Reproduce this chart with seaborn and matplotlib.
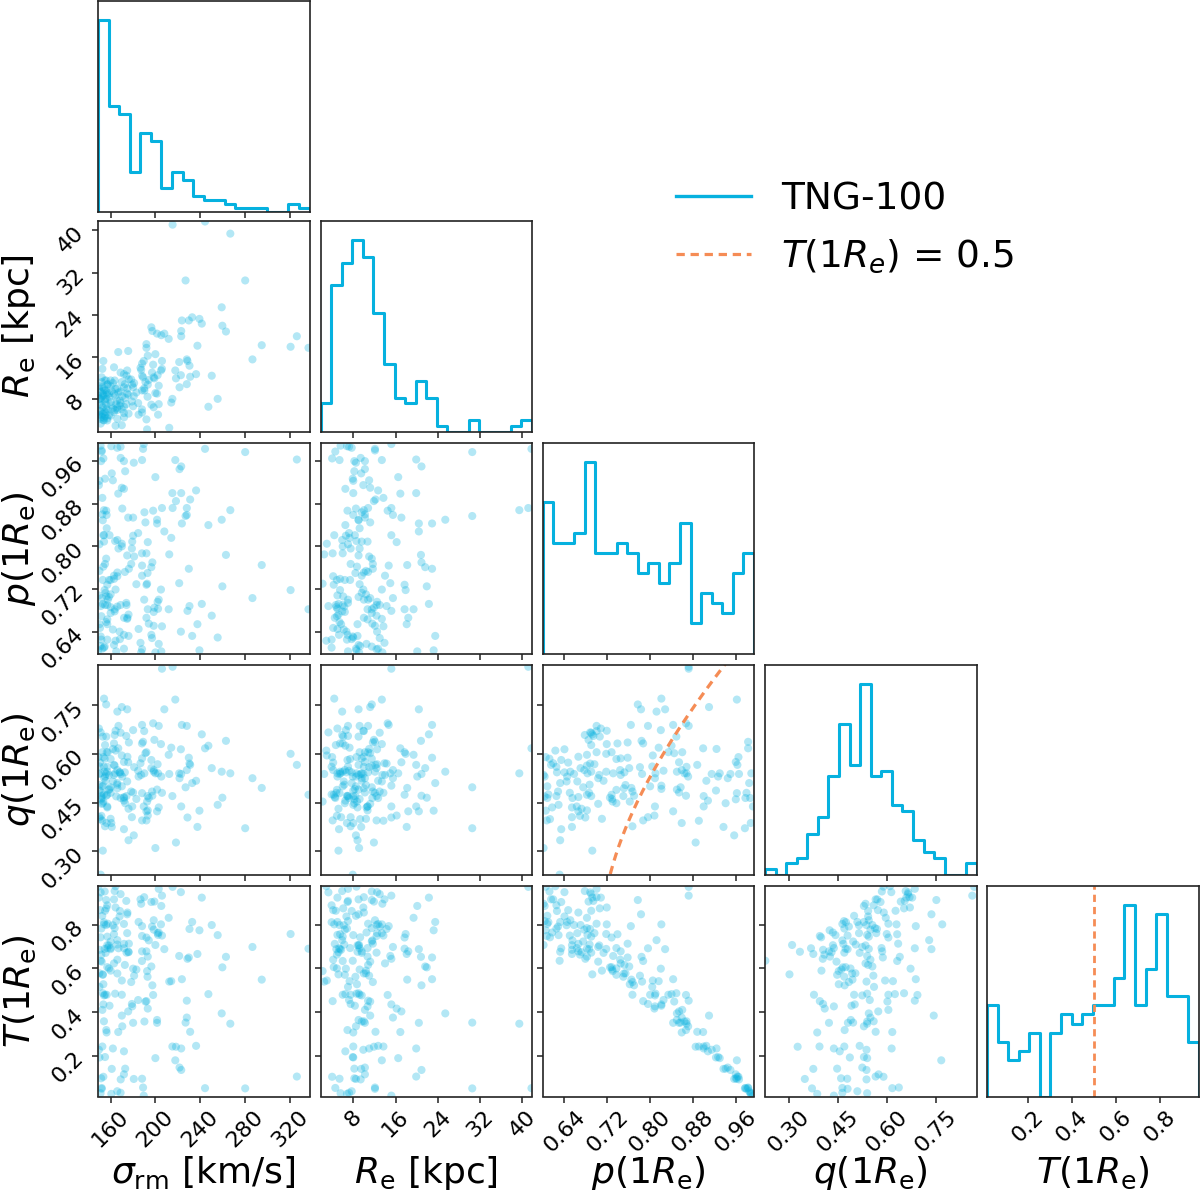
import numpy as np
import pandas as pd
import matplotlib
matplotlib.use("Agg")
import matplotlib.pyplot as plt
import seaborn as sns
from matplotlib.lines import Line2D

plt.rcParams["font.family"] = ["DejaVu Sans"]
plt.rcParams["mathtext.fontset"] = "dejavusans"

# ---------------- data (one entry per galaxy) ----------------
sigma = [215.4, 154.1, 217.8, 156.0, 174.8, 208.0, 170.0, 203.0, 149.5, 164.4,
         188.1, 167.0, 180.1, 223.7, 198.0, 228.1, 153.0, 163.6, 320.9, 174.0,
         199.1, 155.0, 156.1, 205.0, 163.0, 176.3, 263.1, 188.0, 214.2, 156.5,
         152.6, 166.8, 162.0, 189.0, 244.4, 164.4, 222.8, 157.5, 170.4, 211.9,
         175.0, 196.4, 150.5, 163.0, 186.7, 160.0, 188.1, 229.9, 202.0, 250.4,
         155.0, 163.6, 326.5, 168.0, 198.5, 156.0, 154.6, 221.3, 166.0, 172.7,
         196.4, 181.0, 212.4, 150.0, 154.1, 175.7, 166.0, 190.2, 267.0, 151.1,
         231.1, 149.5, 168.3, 223.1, 169.0, 198.5, 151.0, 165.9, 187.3, 162.0,
         174.8, 232.9, 197.0, 286.8, 155.5, 160.0, 336.9, 172.0, 194.1, 157.0,
         158.5, 228.1, 150.0, 178.4, 197.3, 183.0, 192.6, 153.0, 153.5, 153.5,
         159.0, 180.1, 227.0, 156.1, 236.4, 150.0, 171.9, 223.1, 173.0, 188.1,
         152.0, 168.9, 189.6, 165.0, 171.9, 239.4, 203.0, 255.7, 157.0, 157.0,
         192.0, 176.0, 193.2, 150.0, 151.7, 228.7, 152.0, 179.3, 201.5, 179.0,
         192.0, 155.0, 156.4, 152.6, 161.0, 180.7, 280.3, 160.6, 218.4, 151.0,
         171.9, 237.6, 176.0, 200.0, 153.0, 151.1, 205.9, 166.0, 168.9, 241.5,
         190.0, 247.4, 149.0, 154.7, 192.0, 170.0, 191.1, 153.5, 157.0, 230.5,
         154.0, 171.9, 205.3, 185.0, 202.4, 157.0, 158.5, 163.0, 164.0, 184.6,
         259.3, 200.0, 221.6, 152.5, 165.9, 295.1, 170.0, 201.5, 154.0, 151.7,
         205.9, 160.0, 174.2, 259.9, 193.0, 215.2, 151.5, 152.0, 193.2, 160.0,
         188.1]

Re = [41.1, 4.4, 13.4, 11.5, 9.0, 20.4, 11.2, 7.0, 5.0, 9.9,
      14.7, 9.2, 6.6, 22.9, 14.5, 10.8, 9.0, 5.9, 17.9, 7.0,
      11.9, 4.7, 6.1, 13.4, 5.5, 11.7, 20.8, 6.0, 7.3, 9.2,
      10.2, 16.9, 11.0, 12.1, 41.7, 2.9, 12.5, 10.8, 8.5, 19.4,
      10.0, 6.9, 4.2, 9.0, 13.9, 7.4, 9.6, 22.9, 12.5, 12.4,
      7.9, 11.5, 19.9, 6.7, 12.1, 5.4, 5.5, 15.0, 4.2, 10.8,
      21.6, 11.0, 2.5, 7.0, 9.6, 17.1, 10.0, 9.6, 39.4, 3.3,
      12.2, 9.9, 7.7, 20.9, 9.4, 6.4, 5.6, 7.7, 13.5, 6.2,
      13.4, 23.5, 13.0, 15.5, 9.6, 11.5, 17.7, 4.5, 11.6, 4.3,
      4.9, 15.5, 10.4, 11.7, 20.9, 9.2, 2.2, 6.4, 8.7, 15.2,
      8.3, 10.2, 30.5, 6.9, 12.7, 8.0, 6.5, 19.9, 8.2, 5.4,
      4.6, 7.2, 15.2, 7.0, 12.7, 23.2, 10.5, 8.0, 8.8, 10.7,
      18.4, 5.2, 10.7, 5.7, 4.9, 15.2, 11.2, 10.7, 20.4, 7.5,
      4.1, 7.5, 8.0, 13.7, 9.5, 8.5, 30.5, 6.8, 11.9, 9.3,
      5.3, 18.1, 8.8, 9.1, 5.2, 7.9, 15.2, 5.9, 13.0, 22.3,
      10.0, 6.5, 8.6, 11.5, 17.7, 3.0, 11.2, 4.0, 3.9, 14.3,
      10.0, 10.2, 20.1, 5.0, 5.0, 6.0, 9.0, 14.0, 8.6, 7.2,
      25.4, 16.5, 10.2, 8.5, 6.3, 18.2, 6.0, 9.0, 3.9, 6.8,
      13.7, 4.8, 12.4, 21.9, 8.4, 8.0, 8.2, 12.1, 16.2, 10.4,
      12.4]

p = [.872, .821, .962, .777, .783, .828, .910, .700, .708, .719,
     .764, .796, .820, .843, .867, .872, .849, .678, .718, .694,
     .685, .690, .706, .719, .739, .758, .784, .787, .816, .834,
     .860, .899, .924, .983, .983, .623, .640, .700, .871, .682,
     .666, .634, .647, .615, .619, .737, .745, .758, .696, .670,
     .927, .682, .963, .640, .651, .658, .718, .731, .744, .752,
     .761, .781, .785, .804, .809, .854, .751, .864, .868, .688,
     .888, .915, .626, .950, .966, .677, .989, .985, .601, .644,
     .664, .632, .628, .703, .713, .675, .682, .666, .655, .728,
     .737, .859, .754, .767, .770, .729, .730, .737, .762, .821,
     .821, .854, .857, .867, .905, .923, .908, .900, .941, .962,
     .978, .987, .992, .603, .608, .605, .617, .629, .654, .663,
     .666, .672, .682, .654, .669, .679, .703, .809, .843, .796,
     .787, .767, .859, .891, .937, .957, .977, .988, .885, .613,
     .634, .654, .632, .601, .692, .631, .872, .812, .690, .692,
     .700, .840, .605, .612, .728, .805, .845, .965, .625, .688,
     .868, .960, .603, .645, .683, .690, .705, .745, .810, .825,
     .850, .930, .945, .608, .687, .765, .800, .850, .610, .625,
     .650, .686, .690, .725, .750, .900, .960, .980, .808, .710,
     .607]

q = [.868, .770, .767, .752, .737, .737, .744, .686, .678, .671,
     .689, .686, .673, .689, .694, .686, .653, .658, .600, .655,
     .643, .627, .653, .630, .632, .635, .640, .632, .619, .605,
     .605, .617, .615, .637, .617, .610, .614, .605, .530, .597,
     .591, .581, .573, .566, .571, .584, .586, .588, .568, .556,
     .530, .564, .566, .543, .545, .538, .545, .540, .550, .543,
     .556, .559, .538, .561, .525, .574, .494, .540, .540, .666,
     .566, .538, .543, .538, .538, .550, .540, .510, .535, .515,
     .515, .510, .484, .525, .517, .497, .474, .467, .464, .474,
     .489, .550, .504, .484, .471, .461, .453, .448, .453, .502,
     .492, .481, .497, .471, .517, .487, .456, .438, .448, .479,
     .464, .464, .438, .469, .464, .425, .435, .443, .435, .438,
     .423, .431, .426, .405, .409, .404, .446, .438, .423, .405,
     .395, .377, .387, .394, .375, .349, .371, .387, .327, .399,
     .368, .375, .334, .310, .302, .228, .862, .730, .665, .660,
     .670, .625, .590, .585, .605, .595, .602, .590, .560, .570,
     .560, .575, .530, .530, .540, .545, .535, .535, .540, .548,
     .545, .540, .525, .500, .505, .495, .500, .490, .475, .470,
     .480, .480, .470, .465, .470, .470, .460, .480, .410, .400,
     .395]

T = [.972, .801, .181, .912, .847, .688, .385, .963, .923, .878,
     .793, .692, .599, .551, .479, .453, .487, .953, .757, .908,
     .905, .863, .874, .801, .756, .713, .653, .634, .542, .480,
     .411, .310, .235, .057, .054, .975, .948, .804, .336, .831,
     .855, .903, .866, .915, .915, .693, .678, .650, .761, .798,
     .196, .784, .107, .837, .820, .798, .689, .657, .640, .616,
     .609, .567, .540, .516, .477, .404, .577, .358, .348, .947,
     .311, .229, .862, .137, .094, .777, .031, .040, .895, .797,
     .761, .812, .791, .698, .671, .723, .690, .712, .728, .606,
     .600, .376, .578, .538, .523, .595, .588, .571, .528, .436,
     .430, .352, .353, .319, .247, .194, .222, .235, .143, .097,
     .055, .033, .020, .816, .803, .774, .764, .752, .706, .693,
     .678, .674, .654, .685, .663, .644, .631, .427, .352, .438,
     .451, .480, .308, .244, .142, .096, .053, .028, .243, .742,
     .692, .666, .676, .707, .573, .635, .932, .729, .939, .923,
     .925, .483, .973, .951, .741, .545, .449, .106, .888, .780,
     .359, .117, .885, .812, .753, .745, .705, .623, .485, .456,
     .395, .191, .148, .840, .709, .549, .480, .365, .811, .782,
     .750, .688, .672, .605, .562, .244, .099, .051, .417, .590,
     .748]

# histogram counts (20 bins spanning each range)
sigma_counts = [49, 27, 25, 10, 20, 18, 6, 10, 8, 4, 3, 3, 2, 1, 1, 1, 0, 0, 2, 1]
Re_counts = [5, 26, 30, 34, 31, 21, 12, 6, 5, 9, 6, 1, 0, 0, 2, 0, 0, 0, 1, 2]
p_counts = [15, 11, 11, 12, 19, 10, 10, 11, 10, 8, 9, 7, 9, 13, 3, 6, 5, 4, 8, 10]
q_counts = [1, 0, 2, 3, 7, 10, 17, 26, 19, 33, 17, 18, 12, 11, 6, 4, 3, 0, 0, 2]
T_counts = [10, 6, 4, 5, 7, 0, 7, 9, 8, 9, 10, 10, 13, 21, 10, 14, 20, 11, 11, 6]

ranges = {"sigma": (148.7, 337.8), "Re": (1.8, 41.8), "p": (0.599, 0.994),
          "q": (0.227, 0.875), "T": (0.016, 0.976)}
ticks = {"sigma": [160, 200, 240, 280, 320], "Re": [8, 16, 24, 32, 40],
         "p": [0.64, 0.72, 0.80, 0.88, 0.96], "q": [0.30, 0.45, 0.60, 0.75],
         "T": [0.2, 0.4, 0.6, 0.8]}
tick_fmt = {"sigma": "{:.0f}", "Re": "{:.0f}", "p": "{:.2f}", "q": "{:.2f}", "T": "{:.1f}"}
labels = {"sigma": r"$\sigma_{\rm rm}$ [km/s]", "Re": r"$R_{\rm e}$ [kpc]",
          "p": r"$p(1R_{\rm e})$", "q": r"$q(1R_{\rm e})$", "T": r"$T(1R_{\rm e})$"}
legend_labels = ["TNG-100", r"$T(1R_e)$ = 0.5"]
T_cut = 0.5

df = pd.DataFrame({"sigma": sigma, "Re": Re, "p": p, "q": q, "T": T})
counts = {"sigma": sigma_counts, "Re": Re_counts, "p": p_counts, "q": q_counts, "T": T_counts}
names = ["sigma", "Re", "p", "q", "T"]

CYAN = "#06b1df"
ORANGE = "#f58c55"
DASH = (0, (2.6, 1.8))
TICK_FS = 16
LABEL_FS = 26

plt.rcParams["axes.linewidth"] = 1.2
plt.rcParams["axes.edgecolor"] = "#222222"

FW, FH = 1200, 1195
fig = plt.figure(figsize=(FW / 100, FH / 100), dpi=100)
col_x = [98, 320.5, 542.5, 765, 987]
row_y = [1, 221, 443, 664.5, 886]
W, H = 211.5, 210.5

for i, yv in enumerate(names):
    for j in range(i + 1):
        xv = names[j]
        ax = fig.add_axes([col_x[j] / FW, 1 - (row_y[i] + H) / FH, W / FW, H / FH])
        lo, hi = ranges[xv]
        if i == j:
            edges = np.linspace(lo, hi, 21)
            c = np.asarray(counts[xv], float)
            hdf = pd.DataFrame({"center": 0.5 * (edges[:-1] + edges[1:]), "count": c})
            sns.histplot(data=hdf, x="center", weights="count", bins=20, binrange=(lo, hi),
                         element="step", fill=False, color=CYAN, linewidth=2.2, ax=ax)
            ax.vlines([edges[0], edges[-1]], 0, [c[0], c[-1]], color=CYAN, linewidth=2.2)
            ax.set_ylim(0, 1.1 * c.max())
            ax.set_yticks([])
            if xv == "T":
                ax.axvline(T_cut, color=ORANGE, linestyle=DASH, linewidth=2.0)
        else:
            sns.scatterplot(x=df[xv], y=df[yv], ax=ax, color=CYAN, alpha=0.3, s=34,
                            edgecolor="none", legend=False)
            ax.set_ylim(ranges[yv])
            ax.set_yticks(ticks[yv])
            if xv == "p" and yv == "q":
                pg = np.linspace(0.7072, 0.994, 300)
                qg = np.sqrt(np.clip(2 * pg ** 2 - 1, 0, None))
                sns.lineplot(x=pg, y=qg, ax=ax, color=ORANGE, linewidth=2.3,
                             linestyle=DASH)
            if j == 0:
                ax.set_yticklabels([tick_fmt[yv].format(t) for t in ticks[yv]],
                                   rotation=45, fontsize=TICK_FS)
                ax.set_ylabel(labels[yv], fontsize=LABEL_FS)
                ax.yaxis.set_label_coords(-0.285, 0.5)
            else:
                ax.set_yticklabels([])
                ax.set_ylabel("")
        ax.set_xlim(lo, hi)
        ax.set_xticks(ticks[xv])
        if i == 4:
            ax.set_xticklabels([tick_fmt[xv].format(t) for t in ticks[xv]],
                               rotation=45, fontsize=TICK_FS)
            ax.set_xlabel(labels[xv], fontsize=LABEL_FS)
            ax.xaxis.set_label_coords(0.5, -0.275)
        else:
            ax.set_xticklabels([])
            ax.set_xlabel("")
        if i == j:
            ax.set_ylabel("")
        ax.tick_params(length=4, width=1.1, color="#222222")

handles = [Line2D([], [], color=CYAN, linewidth=2.4),
           Line2D([], [], color=ORANGE, linewidth=2.3, linestyle=DASH)]
fig.legend(handles=handles, labels=legend_labels, loc="upper left",
           bbox_to_anchor=(661 / FW, 1 - 166 / FH), frameon=False, fontsize=27,
           borderaxespad=0, labelspacing=0.55)

fig.savefig("out.png", dpi=100)
